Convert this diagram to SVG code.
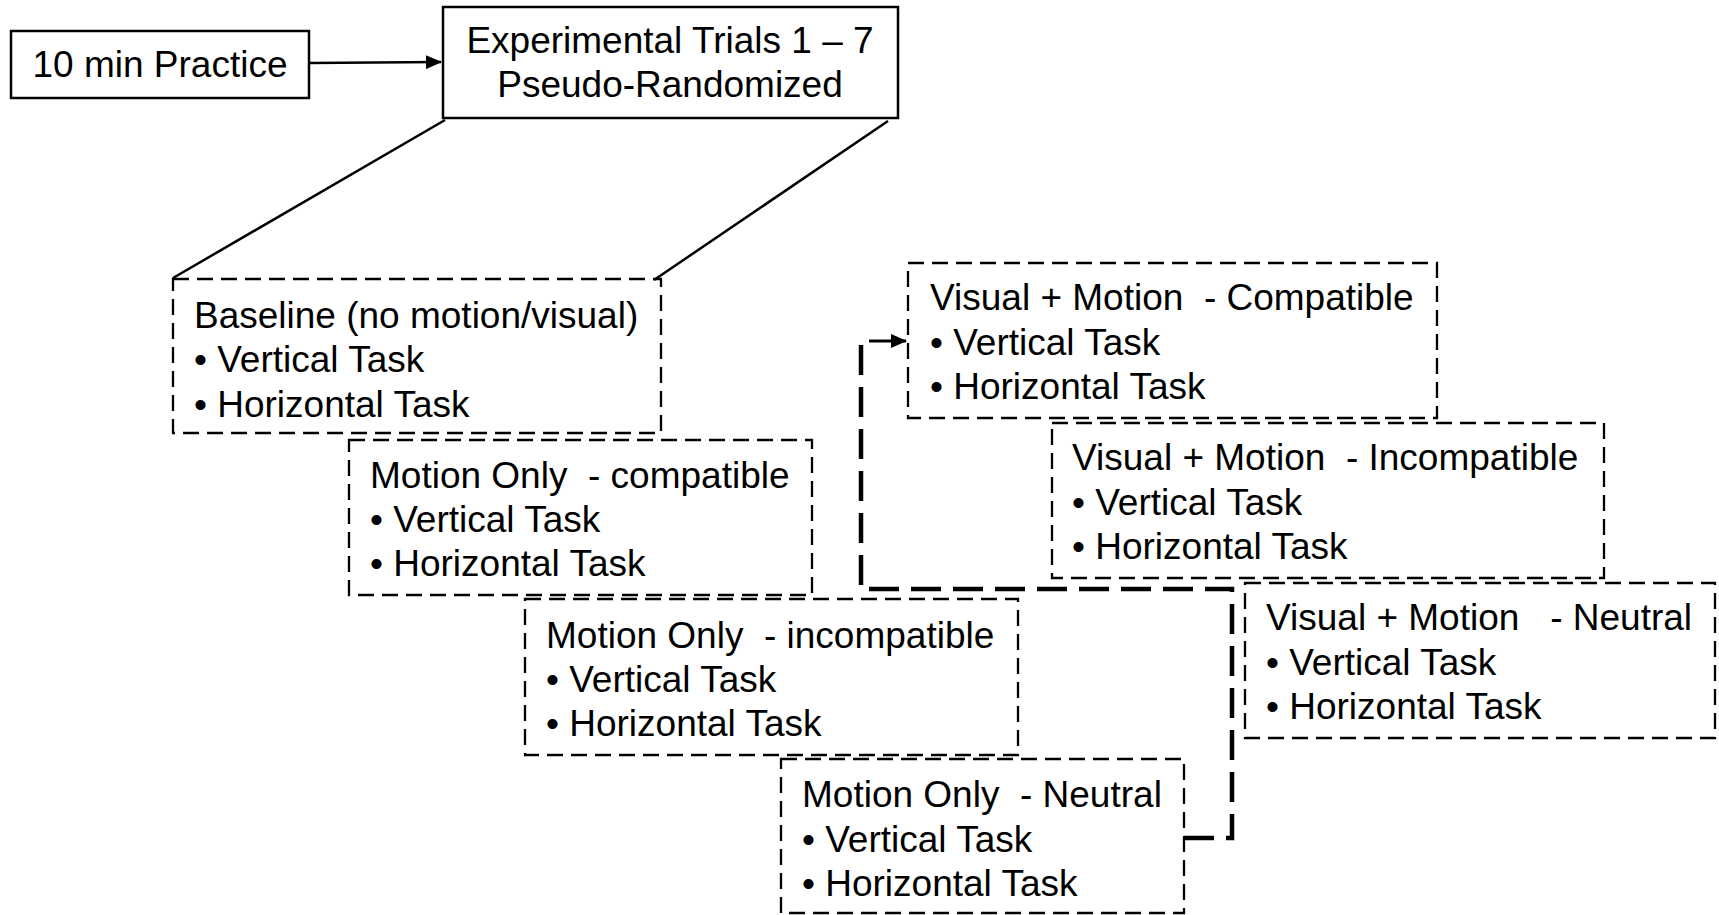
<svg xmlns="http://www.w3.org/2000/svg" width="1719" height="915" viewBox="0 0 1719 915">
<defs>
<style>
text{font-family:"Liberation Sans",Arial,sans-serif;font-size:37px;fill:#000;white-space:pre}
.solid{fill:#fff;stroke:#000;stroke-width:2.5}
.dash{fill:none;stroke:#000;stroke-width:2.3;stroke-dasharray:16 8}
.line{fill:none;stroke:#000;stroke-width:2.5}
.thick{fill:none;stroke:#000;stroke-width:4.5;stroke-dasharray:30 12}
</style>
<marker id="ah" markerWidth="16" markerHeight="14" refX="15" refY="7" orient="auto" markerUnits="userSpaceOnUse">
<path d="M0,0 L16,7 L0,14 Z" fill="#000"/>
</marker>
</defs>
<rect width="1719" height="915" fill="#fff"/>
<g id="connectors">
<line class="line" x1="309" y1="63" x2="441" y2="62" marker-end="url(#ah)"/>
<line class="line" x1="445" y1="120" x2="173" y2="278"/>
<line class="line" x1="888" y1="121" x2="654" y2="280"/>
<path class="thick" d="M1184,838 H1232 V589 H861 V343"/>
<line x1="869" y1="341" x2="906" y2="341" stroke="#000" stroke-width="3" marker-end="url(#ah)"/>
</g>
<g id="practice">
<rect class="solid" x="11" y="31" width="298" height="67"/>
<text x="160" y="77" text-anchor="middle">10 min Practice</text>
</g>
<g id="experimental">
<rect class="solid" x="443" y="7" width="455" height="111"/>
<text x="670" y="53" text-anchor="middle">Experimental Trials 1 – 7</text>
<text x="670" y="97" text-anchor="middle">Pseudo-Randomized</text>
</g>
<g id="baseline">
<rect class="dash" x="173" y="279" width="488" height="154"/>
<text x="194" y="328">Baseline (no motion/visual)</text>
<text x="194" y="372">• Vertical Task</text>
<text x="194" y="417">• Horizontal Task</text>
</g>
<g id="motion-compatible">
<rect class="dash" x="349" y="440" width="463" height="155"/>
<text x="370" y="488">Motion Only  - compatible</text>
<text x="370" y="532">• Vertical Task</text>
<text x="370" y="576">• Horizontal Task</text>
</g>
<g id="motion-incompatible">
<rect class="dash" x="525" y="599" width="493" height="156"/>
<text x="546" y="648">Motion Only  - incompatible</text>
<text x="546" y="692">• Vertical Task</text>
<text x="546" y="736">• Horizontal Task</text>
</g>
<g id="motion-neutral">
<rect class="dash" x="781" y="759" width="403" height="154"/>
<text x="802" y="807">Motion Only  - Neutral</text>
<text x="802" y="852">• Vertical Task</text>
<text x="802" y="896">• Horizontal Task</text>
</g>
<g id="visual-compatible">
<rect class="dash" x="908" y="263" width="529" height="155"/>
<text x="930" y="310">Visual + Motion  - Compatible</text>
<text x="930" y="355">• Vertical Task</text>
<text x="930" y="399">• Horizontal Task</text>
</g>
<g id="visual-incompatible">
<rect class="dash" x="1052" y="423" width="552" height="155"/>
<text x="1072" y="470">Visual + Motion  - Incompatible</text>
<text x="1072" y="515">• Vertical Task</text>
<text x="1072" y="559">• Horizontal Task</text>
</g>
<g id="visual-neutral">
<rect class="dash" x="1245" y="583" width="470" height="155"/>
<text x="1266" y="630">Visual + Motion   - Neutral</text>
<text x="1266" y="675">• Vertical Task</text>
<text x="1266" y="719">• Horizontal Task</text>
</g>
</svg>
